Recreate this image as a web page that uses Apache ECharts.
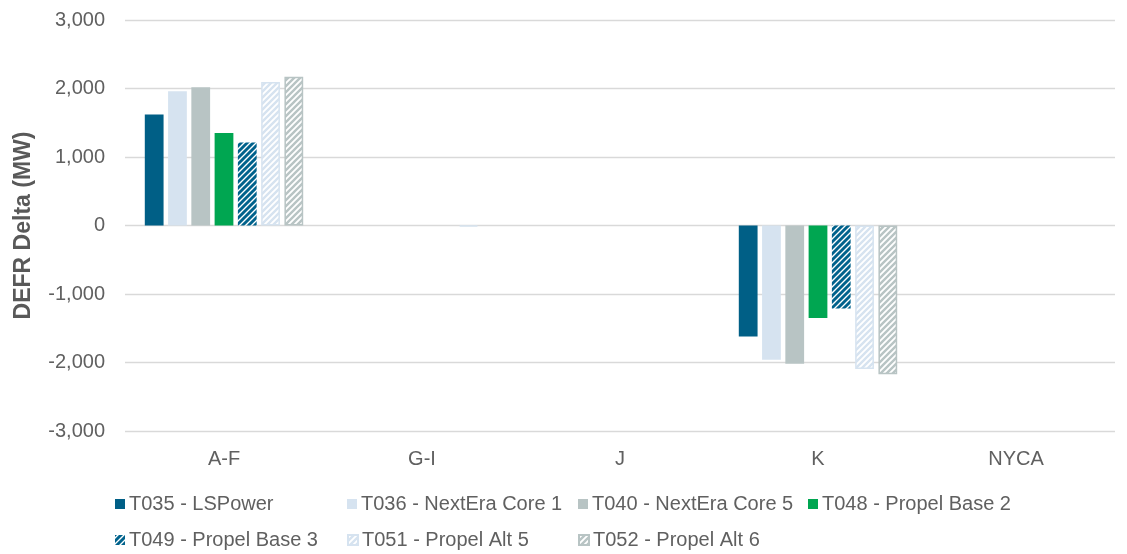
<!DOCTYPE html>
<html>
<head>
<meta charset="utf-8">
<script src="https://cdn.jsdelivr.net/npm/echarts@6/dist/echarts.min.js"></script>
<style>
html,body{margin:0;padding:0;background:#fff;}
#chart{width:1127px;height:554px;}
</style>
</head>
<body>
<div id="chart"></div>
<script>
const categories = ['A-F', 'G-I', 'J', 'K', 'NYCA'];
const seriesNames = ['T035 - LSPower', 'T036 - NextEra Core 1', 'T040 - NextEra Core 5', 'T048 - Propel Base 2',
                     'T049 - Propel Base 3', 'T051 - Propel Alt 5', 'T052 - Propel Alt 6'];
const t035 = [1620, 0, 0, -1620, 0];
const t036 = [1960, 0, 0, -1960, 0];
const t040 = [2020, 0, 0, -2020, 0];
const t048 = [1350, 0, 0, -1350, 0];
const t049 = [1210, 0, 0, -1210, 0];
const t051 = [2095, -15, 0, -2095, 0];
const t052 = [2170, 0, 0, -2170, 0];
const yTicks = [-3000, -2000, -1000, 0, 1000, 2000, 3000];

function stripes(bg, fg, lw) {
  const s = 6;
  const c = document.createElement('canvas');
  c.width = s; c.height = s;
  const g = c.getContext('2d');
  g.fillStyle = bg; g.fillRect(0, 0, s, s);
  g.strokeStyle = fg; g.lineWidth = lw;
  g.beginPath();
  g.moveTo(-1, s + 1); g.lineTo(s + 1, -1);
  g.moveTo(-1, 1); g.lineTo(1, -1);
  g.moveTo(s - 1, s + 1); g.lineTo(s + 1, s - 1);
  g.stroke();
  return {image: c, repeat: 'repeat'};
}

const styles = [
  {color: '#005F86'},
  {color: '#D6E3F0'},
  {color: '#B8C4C4'},
  {color: '#00A651'},
  {color: stripes('#ffffff', '#00628C', 2.9)},
  {color: stripes('#ffffff', '#D6E3F0', 2.4), borderColor: '#D6E3F0', borderWidth: 1.5},
  {color: stripes('#ffffff', '#B8C4C4', 2.4), borderColor: '#B8C4C4', borderWidth: 1.5}
];
const dataSets = [t035, t036, t040, t048, t049, t051, t052];

const legendPos = [[115, 494], [347, 494], [578, 494], [808, 494], [115, 530], [347, 530], [578, 530]];
const legends = seriesNames.map((n, i) => ({
  data: [n], left: legendPos[i][0], top: legendPos[i][1],
  itemWidth: 10, itemHeight: 10, icon: 'rect', padding: 0,
  textStyle: {fontFamily: 'Liberation Sans', fontSize: 20, color: '#606060', padding: [0, 0, 0, -1]}
}));

const chart = echarts.init(document.getElementById('chart'), null, {renderer: 'canvas'});
chart.setOption({
  animation: false,
  backgroundColor: '#ffffff',
  grid: {left: 125, right: 12, top: 20, bottom: 123, containLabel: false},
  legend: legends,
  xAxis: {
    type: 'category', data: categories,
    axisLine: {show: false, onZero: false}, axisTick: {show: false},
    axisLabel: {fontFamily: 'Liberation Sans', fontSize: 20, color: '#606060', margin: 18}
  },
  yAxis: {
    type: 'value', min: yTicks[0], max: yTicks[yTicks.length - 1], interval: 1000,
    name: 'DEFR Delta (MW)', nameLocation: 'middle', nameGap: 90,
    nameTextStyle: {fontFamily: 'Liberation Sans', fontSize: 23, fontWeight: 'bold', color: '#595959'},
    axisLine: {show: false}, axisTick: {show: false},
    splitLine: {lineStyle: {color: '#D9D9D9', width: 1.3}},
    axisLabel: {fontFamily: 'Liberation Sans', fontSize: 20, color: '#606060', margin: 20,
      formatter: v => v.toLocaleString('en-US')}
  },
  series: dataSets.map((d, i) => ({
    name: seriesNames[i], type: 'bar',
    data: d.map(v => (v === 0 ? null : v)),
    barGap: '24%', barCategoryGap: '20%',
    itemStyle: styles[i]
  }))
});
</script>
</body>
</html>
